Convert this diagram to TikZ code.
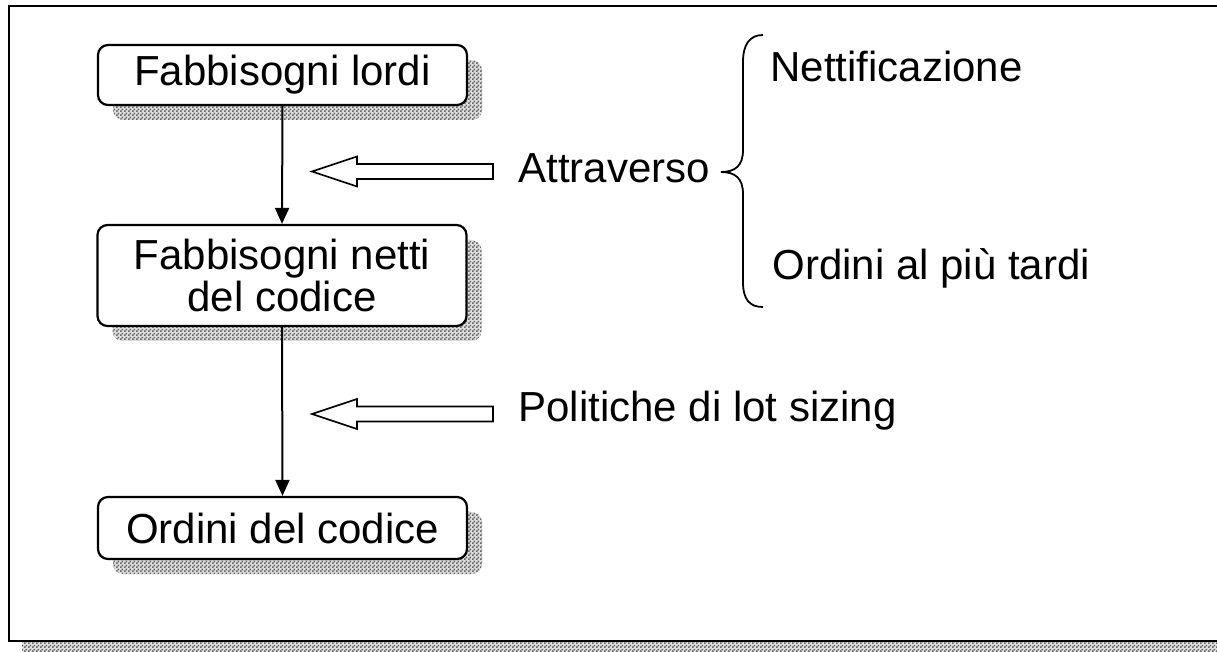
\documentclass[tikz,border=0pt]{standalone}
\usepackage{fontspec}
\setmainfont{Liberation Sans}
\usetikzlibrary{arrows.meta,shadows,patterns}
\pgfdeclarepatternformonly{dither}{\pgfpointorigin}{\pgfqpoint{2pt}{2pt}}{\pgfqpoint{2pt}{2pt}}{%
  \pgfpathrectangle{\pgfpointorigin}{\pgfqpoint{1pt}{1pt}}%
  \pgfpathrectangle{\pgfqpoint{1pt}{1pt}}{\pgfqpoint{1pt}{1pt}}%
  \pgfusepath{fill}}
\tikzset{
  box/.style={draw, line width=1.1pt, rounded corners=5pt, fill=white,
    minimum width=184.5pt, inner sep=0pt, align=center,
    font=\fontsize{21}{17.5}\selectfont,
    general shadow={shadow xshift=7.5pt, shadow yshift=-7.5pt, fill=gray!25},
    general shadow={shadow xshift=7.5pt, shadow yshift=-7.5pt, pattern=dither, pattern color=black!60}},
  lbl/.style={inner sep=0pt, font=\fontsize{21}{25}\selectfont},
  conn/.style={line width=1pt, -{Triangle[length=8pt,width=7pt]}},
  hollow/.style={draw, line width=0.8pt, fill=white, line join=miter},
  shadowfill/.style={pattern=dither, pattern color=black!60}
}
\begin{document}
\begin{tikzpicture}[x=0.5pt,y=-0.5pt]
\useasboundingbox (0,0) rectangle (1217,652);
\clip (0,0) rectangle (1217,652);
% outer frame with shadow
\fill[gray!25] (22,19) rectangle (1260,660);
\fill[shadowfill] (22,19) rectangle (1260,660);
\draw[line width=1.3pt, fill=white] (9,6) rectangle (1250,641);
% boxes
\node[box, minimum height=30pt] (b1) at (282.5,75) {Fabbisogni lordi};
\node[box, minimum height=50.5pt] (b2) at (282,275.5) {Fabbisogni netti\\del codice};
\node[box, minimum height=31pt] (b3) at (282.5,528) {Ordini del codice};
\draw[conn] (b1.south) -- (b2.north);
\draw[conn] (b2.south) -- (b3.north);
% labels
\node[lbl, anchor=base west] (att) at (518,183) {Attraverso};
\node[lbl, anchor=base west] (net) at (770,82) {Nettificazione};
\node[lbl, anchor=base west] (ord) at (772,280) {Ordini al più tardi};
\node[lbl, anchor=base west] (pol) at (518,422) {Politiche di lot sizing};
% hollow arrows
\coordinate (h1) at (312,171.5);
\coordinate (h2) at (312,414);
\draw[hollow] (h1) -- ++(45,-15) -- ++(0,7.5) -- ++(136,0) -- ++(0,15) -- ++(-136,0) -- ++(0,7.5) -- cycle;
\draw[hollow] (h2) -- ++(45,-15) -- ++(0,7.5) -- ++(136,0) -- ++(0,15) -- ++(-136,0) -- ++(0,7.5) -- cycle;
% brace
\coordinate (bt) at (721,172);
\draw[line width=0.9pt] (763,35) .. controls (750,35) and (743,44) .. (743,62)
  -- (743,150) .. controls (743,166) and (735,172) .. (bt)
  .. controls (735,172) and (743,178) .. (743,194)
  -- (743,282) .. controls (743,300) and (750,307) .. (763,307);
\end{tikzpicture}
\end{document}
